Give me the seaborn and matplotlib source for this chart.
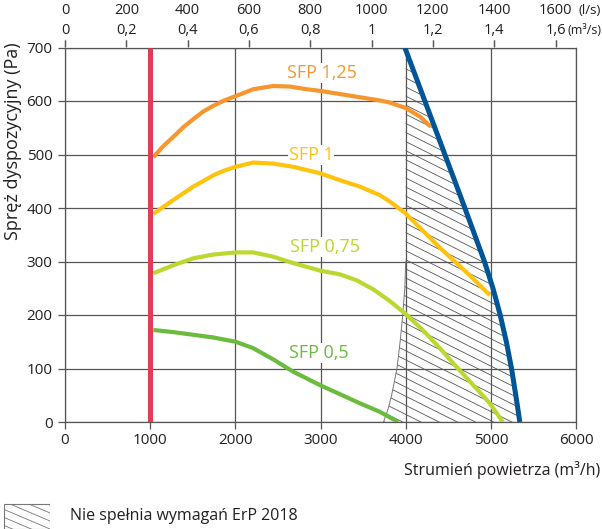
import numpy as np
import pandas as pd
import matplotlib
matplotlib.use("Agg")
import matplotlib.pyplot as plt
from matplotlib.patches import Rectangle
import seaborn as sns

# curves: airflow (m3/h) vs available pressure (Pa)
sfp125_x = [1037, 1150, 1272, 1390, 1506, 1620, 1741, 1870, 2003, 2210, 2445, 2641, 2836, 2993, 3228, 3462, 3700, 3815, 3999, 4167, 4292]
sfp125_y = [495, 515, 533, 551, 566, 580, 591, 601, 609, 622, 628, 627, 622, 619, 613, 607, 601, 597, 587, 571, 552]

sfp1_x = [1037, 1272, 1506, 1741, 1870, 2003, 2210, 2445, 2680, 2993, 3228, 3462, 3697, 3815, 3999, 4206, 4401, 4597, 4793, 4988]
sfp1_y = [389, 415, 440, 461, 470, 477, 485, 483, 477, 465, 452, 440, 424, 412, 390, 357, 326, 297, 268, 237]

sfp075_x = [1037, 1272, 1506, 1741, 2003, 2210, 2445, 2680, 2993, 3228, 3423, 3619, 3815, 3999, 4206, 4401, 4597, 4793, 4988, 5140]
sfp075_y = [278, 293, 306, 313, 317, 317, 309, 297, 283, 276, 265, 248, 226, 202, 171, 138, 103, 69, 35, 0]

sfp05_x = [1037, 1272, 1506, 1741, 2003, 2210, 2445, 2680, 2993, 3228, 3462, 3697, 3912]
sfp05_y = [172, 168, 163, 158, 150, 138, 117, 94, 69, 52, 35, 19, 0]

limit_y = [0, 25, 50, 100, 150, 200, 250, 300, 350, 400, 450, 500, 550, 600, 650, 700]
limit_x = [5340, 5317, 5293, 5243, 5182, 5110, 5025, 4925, 4810, 4695, 4578, 4460, 4343, 4225, 4108, 3990]
erp_left_x = [3740, 3795, 3835, 3898, 3935, 3965, 3990, 4000, 4000, 4000, 4000, 4000, 4000, 4000, 4000, 4000]

min_flow = 1000

labels = ["SFP 1,25", "SFP 1", "SFP 0,75", "SFP 0,5"]
label_pos = [(3020, 652), (2890, 499), (3050, 327), (2980, 129)]
colors = ["#f7962e", "#ffc20e", "#bed630", "#6bbb3e"]

ls_ticks = [0, 200, 400, 600, 800, 1000, 1200, 1400, 1600]
m3s_ticks = [0, 0.2, 0.4, 0.6, 0.8, 1.0, 1.2, 1.4, 1.6]
m3s_labels = ["0", "0,2", "0,4", "0,6", "0,8", "1", "1,2", "1,4", "1,6"]

sns.set_style("white")
plt.rcParams["font.family"] = ["Open Sans", "DejaVu Sans"]
txt = "#231f20"
gridc = "#555555"

fig = plt.figure(figsize=(6.02, 5.29), dpi=100)
ax = fig.add_axes([65 / 602, 1 - 422 / 529, 511 / 602, 374.5 / 529])

# hatched zone (does not meet ErP 2018)
poly = ax.fill_betweenx(limit_y, erp_left_x, limit_x, facecolor="none", edgecolor="none")
clip_path = poly.get_paths()[0]
for c in np.arange(-150, 1300, 17):
    hx = np.array([3500, 5600])
    hy = c - 0.0796 * (hx - 3500)
    ln, = ax.plot(hx, hy, color="#555555", lw=0.6, zorder=2)
    ln.set_clip_path(clip_path, poly.get_transform())
ax.plot(erp_left_x[:8], limit_y[:8], color="#777777", lw=0.7, zorder=2)

curves = [(sfp125_x, sfp125_y), (sfp1_x, sfp1_y), (sfp075_x, sfp075_y), (sfp05_x, sfp05_y)]
for (cx, cy), col in zip(curves, colors):
    df = pd.DataFrame({"q": cx, "p": cy})
    sns.lineplot(data=df, x="q", y="p", ax=ax, color=col, lw=3.0, sort=False,
                 estimator=None, zorder=4, solid_capstyle="butt", solid_joinstyle="round")

sns.lineplot(x=limit_x, y=limit_y, ax=ax, color="#005596", lw=3.6, sort=False,
             estimator=None, zorder=5, solid_capstyle="butt", solid_joinstyle="round")
ax.plot([min_flow, min_flow], [0, 700], color="#e63b54", lw=3.6, zorder=6,
        solid_capstyle="butt")

for lab, (lx, ly), col in zip(labels, label_pos, colors):
    ax.text(lx, ly, lab, color=col, fontsize=13, ha="center", va="center", zorder=3,
            bbox=dict(facecolor="white", edgecolor="none", pad=0.5))

ax.set_xlim(0, 6000)
ax.set_ylim(0, 700)
ax.set_xticks(range(0, 6001, 1000))
ax.set_yticks(range(0, 701, 100))
ax.grid(True, color=gridc, lw=0.9)
ax.set_axisbelow(True)
for s in ax.spines.values():
    s.set_color(gridc)
    s.set_linewidth(0.9)
ax.tick_params(axis="both", direction="out", length=5, width=0.9, color=gridc,
               labelsize=11, labelcolor=txt, left=True, bottom=True)
ax.tick_params(axis="x", pad=3)
ax.tick_params(axis="y", pad=4)
ax.set_xlabel("")
ax.set_ylabel("")

# two top scales: l/s (upper row) and m3/s (lower row)
sec_ls = ax.secondary_xaxis("top", functions=(lambda q: q / 3.6, lambda v: v * 3.6))
sec_ls.set_xticks(ls_ticks)
sec_ls.set_xticklabels([str(v) for v in ls_ticks])
sec_ls.tick_params(direction="out", length=5, width=0.9, color=gridc, labelsize=10.5,
                   labelcolor=txt, pad=16)
sec_ls.spines["top"].set_visible(False)

sec_m3s = ax.secondary_xaxis("top", functions=(lambda q: q / 3600, lambda v: v * 3600))
sec_m3s.set_xticks(m3s_ticks)
sec_m3s.set_xticklabels(m3s_labels)
sec_m3s.tick_params(direction="out", length=5, width=0.9, color=gridc, labelsize=10.5,
                    labelcolor=txt, pad=2)
sec_m3s.spines["top"].set_visible(False)

fig.text(601 / 602, 1 - 10 / 529, "(l/s)", fontsize=9.5, color=txt, ha="right", va="center")
fig.text(602 / 602, 1 - 30 / 529, "(m³/s)", fontsize=9, color=txt, ha="right", va="center")

fig.text(13 / 602, 1 - 141 / 529, "Spręż dyspozycyjny (Pa)", rotation=90, fontsize=13,
         color=txt, ha="center", va="center")
fig.text(600 / 602, 1 - 470 / 529, "Strumień powietrza (m³/h)", fontsize=11.5, color=txt,
         ha="right", va="center")

# legend swatch
lax = fig.add_axes([3 / 602, 0, 47 / 602, 26 / 529])
lax.set_xlim(0, 47)
lax.set_ylim(0, 26)
lax.axis("off")
rect = Rectangle((0.5, 0.5), 46, 25, facecolor="none", edgecolor="#777777", lw=0.8)
lax.add_patch(rect)
for c in np.arange(-20, 60, 8):
    ln, = lax.plot([0, 47], [c, c - 20], color="#777777", lw=0.6)
    ln.set_clip_path(rect)
fig.text(70 / 602, 1 - 516 / 529, "Nie spełnia wymagań ErP 2018", fontsize=11.5, color=txt,
         ha="left", va="center")

fig.savefig("out.png", dpi=100)
